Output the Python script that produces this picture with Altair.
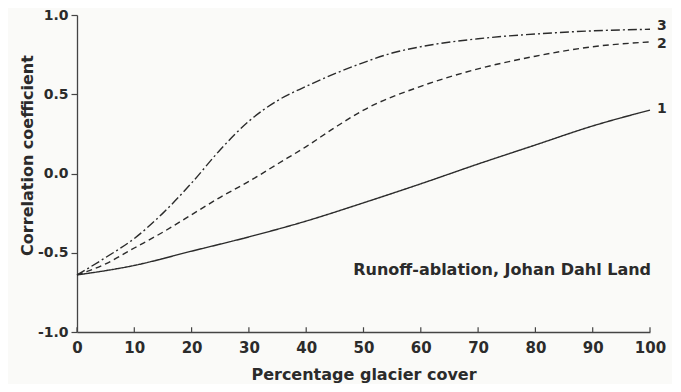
import altair as alt
import pandas as pd

# Percentage glacier cover (x) and correlation coefficient (y) for each curve
x1 = [0, 10, 20, 30, 40, 50, 60, 70, 80, 90, 100]
r1 = [-0.64, -0.58, -0.49, -0.40, -0.30, -0.185, -0.065, 0.06, 0.18, 0.30, 0.40]

x2 = [0, 5, 10, 15, 20, 25, 30, 35, 40, 45, 50, 60, 70, 80, 90, 100]
r2 = [-0.64, -0.57, -0.47, -0.37, -0.26, -0.15, -0.05, 0.06, 0.17, 0.29, 0.40, 0.55, 0.66, 0.74, 0.80, 0.83]

x3 = [0, 5, 10, 15, 20, 25, 30, 35, 40, 45, 50, 55, 60, 70, 80, 90, 100]
r3 = [-0.64, -0.53, -0.41, -0.25, -0.06, 0.15, 0.33, 0.46, 0.55, 0.63, 0.70, 0.76, 0.80, 0.85, 0.88, 0.90, 0.91]

curve_names = ["1", "2", "3"]
label_r = [0.41, 0.815, 0.93]
x_ticks = [0, 10, 20, 30, 40, 50, 60, 70, 80, 90, 100]
y_ticks = [-1.0, -0.5, 0.0, 0.5, 1.0]
annotation = "Runoff-ablation, Johan Dahl Land"

rows = []
for name, xs, rs in zip(curve_names, [x1, x2, x3], [r1, r2, r3]):
    for xv, rv in zip(xs, rs):
        rows.append({"curve": name, "pct": xv, "r": rv})
df = pd.DataFrame(rows)

ends = pd.DataFrame({"curve": curve_names, "pct": [x1[-1], x2[-1], x3[-1]], "r": label_r})
ticks_df = pd.DataFrame({"pct": x_ticks})
ann_df = pd.DataFrame({"pct": [48.2], "r": [-0.61], "label": [annotation]})

FONT = "DejaVu Sans"
INK = "#2b2b2b"

xscale = alt.Scale(domain=[0, 100], nice=False, zero=False)
yscale = alt.Scale(domain=[-1.0, 1.0], nice=False, zero=False)

x_enc = alt.X("pct:Q", scale=xscale, axis=alt.Axis(
    values=x_ticks, format="d", grid=False, ticks=False,
    labelFont=FONT, labelFontWeight="bold", labelFontSize=15, labelColor=INK,
    labelPadding=8, labelFlush=False,
    domainColor="#444", domainWidth=1.3,
    title="Percentage glacier cover", titleFont=FONT, titleFontWeight="bold",
    titleFontSize=16, titleColor=INK, titlePadding=11))

y_enc = alt.Y("r:Q", scale=yscale, axis=alt.Axis(
    values=y_ticks, grid=False, tickSize=6, tickColor="#444", tickWidth=1.2,
    labelExpr="replace(format(datum.value, '.1f'), '\u2212', '-')",
    labelFont=FONT, labelFontWeight="bold", labelFontSize=14, labelColor=INK,
    labelPadding=3, domainColor="#444", domainWidth=1.3,
    title="Correlation coefficient", titleFont=FONT, titleFontWeight="bold",
    titleFontSize=16, titleColor=INK, titleX=-50, titleY=140,
    titleAngle=270, titleAlign="center", titleBaseline="middle"))

lines = alt.Chart(df).mark_line(interpolate="monotone", color=INK, strokeWidth=1.4).encode(
    x=x_enc,
    y=y_enc,
    strokeDash=alt.StrokeDash("curve:N", scale=alt.Scale(
        domain=curve_names, range=[[1, 0], [6, 4], [9, 3, 2, 3]]), legend=None),
    detail="curve:N",
)

xticks = alt.Chart(ticks_df).mark_rule(color="#444", strokeWidth=1.2).encode(
    x=alt.X("pct:Q", scale=xscale),
    y=alt.datum(-1.0),
    y2=alt.datum(-0.97),
)

end_labels = alt.Chart(ends).mark_text(
    align="left", baseline="middle", dx=7, font=FONT, fontWeight="bold", fontSize=14, color=INK
).encode(x=alt.X("pct:Q", scale=xscale), y=alt.Y("r:Q", scale=yscale), text="curve:N")

ann = alt.Chart(ann_df).mark_text(
    align="left", baseline="middle", font=FONT, fontWeight="bold", fontSize=16, color=INK
).encode(x=alt.X("pct:Q", scale=xscale), y=alt.Y("r:Q", scale=yscale), text="label:N")

chart = alt.layer(lines, xticks, end_labels, ann).properties(
    width=573, height=317,
    autosize=alt.AutoSizeParams(type="none"),
    padding={"left": 69, "top": 7, "right": 22, "bottom": 52},
    background="#fafaf8",
).configure_view(stroke=None)

chart.save("out.html", embed_options={"renderer": "svg", "actions": False})
